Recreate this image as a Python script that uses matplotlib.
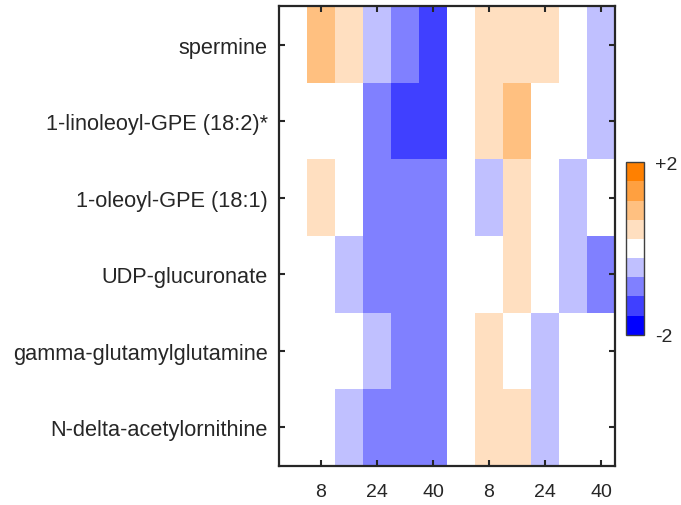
import numpy as np
import matplotlib
matplotlib.use("Agg")
import matplotlib.pyplot as plt
from matplotlib.colors import ListedColormap, BoundaryNorm

metabolites = [
    "spermine",
    "1-linoleoyl-GPE (18:2)*",
    "1-oleoyl-GPE (18:1)",
    "UDP-glucuronate",
    "gamma-glutamylglutamine",
    "N-delta-acetylornithine",
]

# two time courses of 6 points each (0, 8, 16, 24, 32, 40)
times = [0, 8, 16, 24, 32, 40]
tick_labels = ["8", "24", "40", "8", "24", "40"]

spermine = [0, 0.9, 0.45, -0.45, -0.9, -1.3, 0, 0.45, 0.45, 0.45, 0, -0.45]
linoleoyl_gpe = [0, 0, 0, -0.9, -1.3, -1.3, 0, 0.45, 0.9, 0, 0, -0.45]
oleoyl_gpe = [0, 0.45, 0, -0.9, -0.9, -0.9, 0, -0.45, 0.45, 0, -0.45, 0]
udp_glucuronate = [0, 0, -0.45, -0.9, -0.9, -0.9, 0, 0, 0.45, 0, -0.45, -0.9]
gamma_glu_glu = [0, 0, 0, -0.45, -0.9, -0.9, 0, 0.45, 0, -0.45, 0, 0]
n_delta_acetylorn = [0, 0, -0.45, -0.9, -0.9, -0.9, 0, 0.45, 0.45, -0.45, 0, 0]

level_colors = ["#0000FF", "#4040FF", "#8080FF", "#C0C0FF", "#FFFFFF",
                "#FFDFC0", "#FFC080", "#FFA040", "#FF8000"]


def main() -> None:
    plt.rcParams["font.family"] = ["Liberation Sans", "DejaVu Sans"]

    data = np.array([spermine, linoleoyl_gpe, oleoyl_gpe,
                     udp_glucuronate, gamma_glu_glu, n_delta_acetylorn])
    n_rows, n_cols = data.shape

    cmap = ListedColormap(level_colors)
    bounds = np.linspace(-2, 2, len(level_colors) + 1)
    norm = BoundaryNorm(bounds, cmap.N)

    fig = plt.figure(figsize=(6.81, 5.06), dpi=100)
    ax = fig.add_axes([0.4097, 0.0777, 0.4934, 0.9079])

    mesh = ax.pcolormesh(np.arange(n_cols + 1), np.arange(n_rows + 1), data,
                         cmap=cmap, norm=norm, edgecolors="face",
                         linewidth=0)
    ax.set_xlim(0, n_cols)
    ax.set_ylim(n_rows, 0)

    xt = [i + 0.5 for i in range(n_cols) if times[i % len(times)] in (8, 24, 40)]
    ax.set_xticks(xt)
    ax.set_xticklabels(tick_labels, fontsize=14)
    ax.set_yticks(np.arange(n_rows) + 0.5)
    ax.set_yticklabels(metabolites, fontsize=15.7)

    ax.tick_params(axis="x", direction="in", top=True, bottom=True,
                   length=4, width=1.5, pad=12.5, colors="#262626")
    ax.tick_params(axis="y", direction="in", left=True, right=True,
                   length=4, width=1.5, pad=8, colors="#262626")
    for lab in ax.get_xticklabels() + ax.get_yticklabels():
        lab.set_color("#262626")
    for spine in ax.spines.values():
        spine.set_linewidth(1.6)
        spine.set_color("#262626")

    cax = fig.add_axes([0.9192, 0.3366, 0.0269, 0.3407])
    cb = fig.colorbar(mesh, cax=cax, boundaries=bounds)
    cb.set_ticks([-2, 2])
    cb.set_ticklabels(["-2", "+2"])
    cax.minorticks_off()
    cax.tick_params(which="both", length=0, pad=8, labelsize=14,
                    colors="#262626")
    cb.outline.set_linewidth(1.0)
    cb.outline.set_edgecolor("#404040")

    fig.savefig("out.png", dpi=100)


if __name__ == "__main__":
    main()
